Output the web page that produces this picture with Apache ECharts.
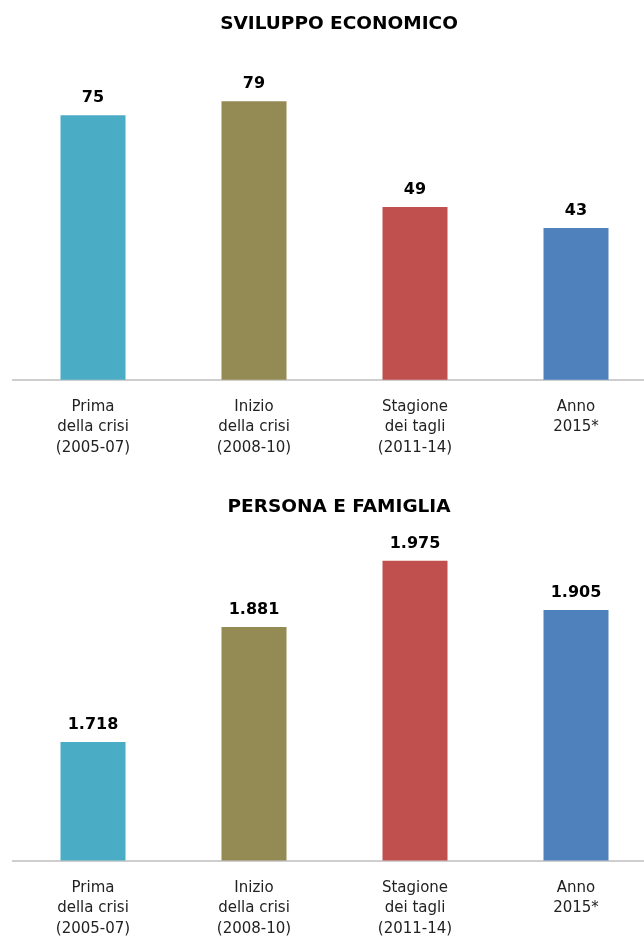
<!DOCTYPE html>
<html>
<head>
<meta charset="utf-8">
<script src="https://cdn.jsdelivr.net/npm/echarts@6/dist/echarts.min.js"></script>
<style>
  html, body { margin: 0; padding: 0; background: #fff; overflow: hidden; }
  #chart { width: 670px; height: 939px; }
</style>
</head>
<body>
<div id="chart"></div>
<script>
  const categories = [
    "Prima\ndella crisi\n(2005-07)",
    "Inizio\ndella crisi\n(2008-10)",
    "Stagione\ndei tagli\n(2011-14)",
    "Anno\n2015*",
  ]
  const titles = ["SVILUPPO ECONOMICO", "PERSONA E FAMIGLIA"]
  const sviluppoValues = [75, 79, 49, 43]
  const personaValues = [1718, 1881, 1975, 1905]
  const barColors = ["#4bacc6", "#948a54", "#c0504d", "#4f81bd"]

  const font = "DejaVu Sans"

  // italian thousands separator: 1718 -> 1.718
  function fmt(v) {
    return String(v).replace(/\B(?=(\d{3})+(?!\d))/g, ".")
  }

  function xAxis(gridIndex) {
    return {
      type: "category",
      gridIndex: gridIndex,
      data: categories,
      axisTick: { show: false },
      axisLine: { lineStyle: { color: "#bfbfbf", width: 1.5 } },
      axisLabel: {
        color: "#222",
        fontFamily: font,
        fontSize: 15,
        lineHeight: 20.5,
        margin: 17,
        interval: 0,
      },
    }
  }

  function series(idx, values) {
    return {
      type: "bar",
      xAxisIndex: idx,
      yAxisIndex: idx,
      barWidth: 65,
      data: values.map((v, i) => ({ value: v, itemStyle: { color: barColors[i] } })),
      label: {
        show: true,
        position: "top",
        distance: 9,
        color: "#000",
        fontFamily: font,
        fontWeight: "bold",
        fontSize: 16,
        formatter: (p) => fmt(p.value),
      },
      animation: false,
    }
  }

  const titleStyle = { fontFamily: font, fontWeight: "bold", fontSize: 18.5, color: "#000" }

  const option = {
    backgroundColor: "#fff",
    title: [
      { text: titles[0], left: 334, top: 10, textAlign: "center", textStyle: titleStyle },
      { text: titles[1], left: 334, top: 493, textAlign: "center", textStyle: titleStyle },
    ],
    grid: [
      { left: 12.5, width: 644, top: 62.4, height: 317.3 },
      { left: 12.5, width: 644, top: 543, height: 320 },
    ],
    xAxis: [xAxis(0), xAxis(1)],
    yAxis: [
      { type: "value", gridIndex: 0, min: 0, max: 90, show: false, splitLine: { show: false } },
      { type: "value", gridIndex: 1, min: 1550, max: 2000, show: false, splitLine: { show: false } },
    ],
    series: [series(0, sviluppoValues), series(1, personaValues)],
  }

  const myChart = echarts.init(document.getElementById("chart"))
  myChart.setOption(option)
</script>
</body>
</html>
